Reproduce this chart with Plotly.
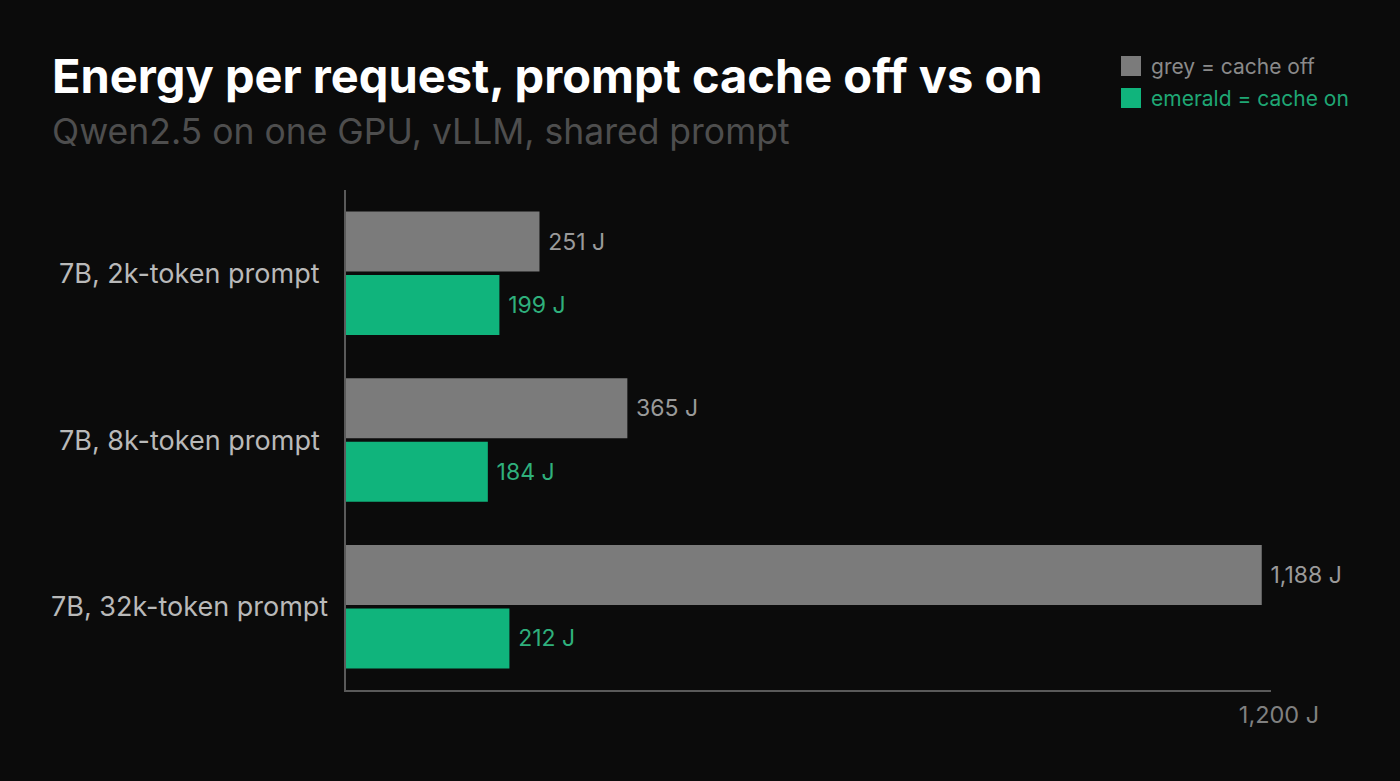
import plotly.graph_objects as go

categories = ["7B, 2k-token prompt", "7B, 8k-token prompt", "7B, 32k-token prompt"]
cache_off = [251, 365, 1188]
cache_on = [199, 184, 212]
off_labels = ["251 J", "365 J", "1,188 J"]
on_labels = ["199 J", "184 J", "212 J"]
x_tick_vals = [1200]
x_tick_text = ["1,200 J"]

W, H = 1400, 781
L, R, T, B = 346, 1271, 190, 690
PW, PH = R - L, B - T

def px(x):
    return (x - L) / PW

def py(y):
    return (B - y) / PH

BG = "#0b0b0b"
GREY = "#7b7b7b"
GREEN = "#10b47c"
FONT = "Inter"

fig = go.Figure()
fig.add_trace(go.Bar(
    y=categories, x=cache_off, orientation="h", name="cache off",
    marker=dict(color=GREY, line=dict(width=0)),
    text=off_labels, texttemplate="\u2005%{text}", textposition="outside", cliponaxis=False,
    textfont=dict(color="#9a9a9a", size=23, family=FONT),
))
fig.add_trace(go.Bar(
    y=categories, x=cache_on, orientation="h", name="cache on",
    marker=dict(color=GREEN, line=dict(width=0)),
    text=on_labels, texttemplate="\u2005%{text}", textposition="outside", cliponaxis=False,
    textfont=dict(color="#2fb07c", size=23, family=FONT),
))

annotations = []
# category labels
for i, c in enumerate(categories):
    annotations.append(dict(
        x=px(189), xref="paper", y=c, yref="y", text=c, showarrow=False,
        xanchor="center", yanchor="middle",
        font=dict(size=27, color="#b9b9b9", family=FONT),
    ))
# title and subtitle
annotations.append(dict(
    x=px(50), xref="paper", y=py(75), yref="paper",
    text="<b>Energy per request, prompt cache off vs on</b>", showarrow=False,
    xanchor="left", yanchor="middle",
    font=dict(size=47, color="#ffffff", family=FONT),
))
annotations.append(dict(
    x=px(50), xref="paper", y=py(132), yref="paper",
    text="Qwen2.5 on one GPU, vLLM, shared prompt", showarrow=False,
    xanchor="left", yanchor="middle",
    font=dict(size=35.5, color="#4e4e4e", family=FONT),
))
# legend
legend_items = [("grey = cache off", GREY, "#8a8a8a", 66), ("emerald = cache on", GREEN, "#1fa774", 98)]
shapes = []
for txt, sq, tc, yc in legend_items:
    shapes.append(dict(type="rect", xref="paper", yref="paper",
                       x0=px(1121), x1=px(1141), y0=py(yc - 10), y1=py(yc + 10),
                       fillcolor=sq, line=dict(width=0)))
    annotations.append(dict(
        x=px(1149), xref="paper", y=py(yc), yref="paper", text=txt,
        showarrow=False, xanchor="left", yanchor="middle",
        font=dict(size=21, color=tc, family=FONT),
    ))

fig.update_layout(
    width=W, height=H,
    margin=dict(l=L, r=W - R, t=T, b=H - B),
    paper_bgcolor=BG, plot_bgcolor=BG,
    barmode="group", bargap=0.238, bargroupgap=0.055,
    showlegend=False,
    annotations=annotations, shapes=shapes,
    font=dict(family=FONT),
    xaxis=dict(
        range=[0, 1200], showgrid=False, zeroline=False,
        showline=True, linecolor="#5a5a5a", linewidth=1.5,
        tickvals=x_tick_vals, ticktext=x_tick_text,
        ticks="inside", ticklen=10, tickcolor="#5a5a5a", tickwidth=1.5,
        tickfont=dict(size=23.5, color="#808080", family=FONT),
        ticklabelshift=8, ticklabelstandoff=3,
        fixedrange=True,
    ),
    yaxis=dict(
        autorange="reversed", showgrid=False, zeroline=False,
        showline=True, linecolor="#5a5a5a", linewidth=1.5,
        showticklabels=False, ticks="",
        fixedrange=True,
    ),
)

fig.write_html(
    "out.html",
    config={"displayModeBar": False},
    post_script="document.body.style.margin='0';document.body.style.background='#0b0b0b';",
)
